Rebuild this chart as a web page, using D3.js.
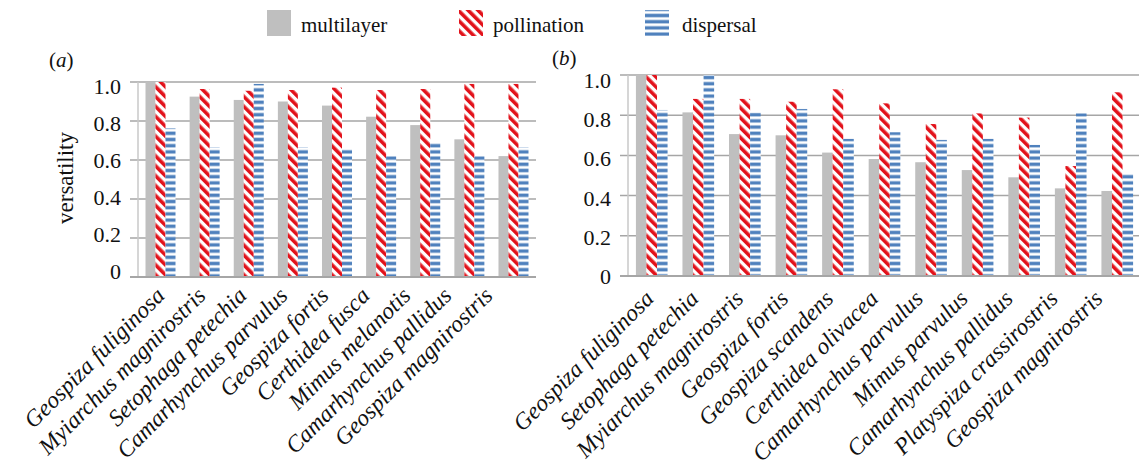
<!DOCTYPE html>
<html>
<head>
<meta charset="utf-8">
<script src="https://cdn.jsdelivr.net/npm/d3@7"></script>
<style>
  body { margin: 0; background: #fff; }
</style>
</head>
<body>
<div id="chart"></div>
<script>
// data
var seriesNames = ["multilayer", "pollination", "dispersal"];
var yTicks = [0, 0.2, 0.4, 0.6, 0.8, 1.0];

var speciesA = ["Geospiza fuliginosa", "Myiarchus magnirostris", "Setophaga petechia",
  "Camarhynchus parvulus", "Geospiza fortis", "Certhidea fusca", "Mimus melanotis",
  "Camarhynchus pallidus", "Geospiza magnirostris"];
var multilayerA  = [1.0, 0.925, 0.908, 0.90, 0.879, 0.822, 0.779, 0.706, 0.62];
var pollinationA = [1.0, 0.964, 0.955, 0.959, 0.971, 0.959, 0.964, 0.99, 0.99];
var dispersalA   = [0.763, 0.665, 0.99, 0.665, 0.656, 0.62, 0.689, 0.62, 0.665];

var speciesB = ["Geospiza fuliginosa", "Setophaga petechia", "Myiarchus magnirostris",
  "Geospiza fortis", "Geospiza scandens", "Certhidea olivacea", "Camarhynchus parvulus",
  "Mimus parvulus", "Camarhynchus pallidus", "Platyspiza crassirostris", "Geospiza magnirostris"];
var multilayerB  = [1.0, 0.814, 0.706, 0.70, 0.614, 0.582, 0.566, 0.527, 0.491, 0.436, 0.423];
var pollinationB = [1.0, 0.881, 0.881, 0.867, 0.929, 0.859, 0.756, 0.809, 0.788, 0.547, 0.914];
var dispersalB   = [0.826, 1.0, 0.813, 0.831, 0.682, 0.715, 0.677, 0.682, 0.652, 0.809, 0.511];

var W = 1139, H = 474;
var grey = "#bfbfbf", red = "#e2121b", blue = "#4f81bd", gridCol = "#a6a6a6";
var FONT = "Liberation Serif";

var svg = d3.select("#chart").append("svg")
  .attr("width", W).attr("height", H);

function txt(sel, size) {
  return sel.append("text")
    .attr("font-family", FONT)
    .attr("font-size", size || 22).attr("fill", "#111");
}

// fill patterns
var defs = svg.append("defs");
var pRed = defs.append("pattern")
  .attr("id", "pRed").attr("patternUnits", "userSpaceOnUse")
  .attr("width", 7).attr("height", 7)
  .attr("patternTransform", "rotate(-45)");
pRed.append("rect").attr("width", 7).attr("height", 7).attr("fill", "#fff");
pRed.append("rect").attr("width", 3.6).attr("height", 7).attr("fill", red);

var pBlue = defs.append("pattern")
  .attr("id", "pBlue").attr("patternUnits", "userSpaceOnUse")
  .attr("width", 6).attr("height", 6.2);
pBlue.append("rect").attr("width", 6).attr("height", 6.2).attr("fill", "#fff");
pBlue.append("rect").attr("y", 1.4).attr("width", 6).attr("height", 3.4).attr("fill", blue);

var fills = {multilayer: grey, pollination: "url(#pRed)", dispersal: "url(#pBlue)"};

// legend
var legendItems = [
  {name: "multilayer", x: 267, tx: 301},
  {name: "pollination", x: 459, tx: 493},
  {name: "dispersal", x: 645, tx: 682}
];
var lg = svg.append("g");
legendItems.forEach(function(d) {
  lg.append("rect").attr("x", d.x).attr("y", 10).attr("width", 24).attr("height", 26)
    .attr("fill", fills[d.name]);
  txt(lg, 21).attr("x", d.tx).attr("y", 32).text(d.name);
});

function panel(opts) {
  var cats = opts.cats;
  var rows = cats.map(function(c, i) {
    return {cat: c, multilayer: opts.m[i], pollination: opts.p[i], dispersal: opts.d[i]};
  });

  var x = d3.scaleBand().domain(cats).range([opts.x0, opts.x1])
    .paddingInner(0.32).paddingOuter(0.17);
  var xs = d3.scaleBand().domain(seriesNames).range([0, x.bandwidth()]);
  var y = d3.scaleLinear().domain([0, 1]).range([opts.yb, opts.yt]);
  // the text in the figure sits on its own, slightly tighter grid
  var yLab = d3.scaleLinear().domain([0, 1]).range(opts.labY);
  var xLab = d3.scalePoint().domain(cats).range(opts.labX);

  var g = svg.append("g");

  // gridlines + outward ticks
  g.selectAll(".grid").data(yTicks.filter(function(t) { return t > 0; }))
    .enter().append("line")
    .attr("x1", opts.x0 - 8).attr("x2", opts.x1)
    .attr("y1", function(t) { return y(t); }).attr("y2", function(t) { return y(t); })
    .attr("stroke", gridCol).attr("stroke-width", 1.5);

  // y axis line
  g.append("line").attr("x1", opts.x0).attr("x2", opts.x0)
    .attr("y1", y(1)).attr("y2", y(0))
    .attr("stroke", "#c8c8c8").attr("stroke-width", 1.5);

  // tick labels
  yTicks.forEach(function(t) {
    txt(g).attr("x", opts.x0 - 17).attr("y", yLab(t))
      .attr("dy", "0.35em").attr("text-anchor", "end")
      .text(t === 0 ? "0" : d3.format(".1f")(t));
  });

  // bars
  var grp = g.selectAll(".grp").data(rows).enter().append("g")
    .attr("transform", function(d) { return "translate(" + x(d.cat) + ",0)"; });
  grp.selectAll("rect").data(function(d) {
      return seriesNames.map(function(s) { return {s: s, v: d[s]}; });
    })
    .enter().append("rect")
    .attr("x", function(d) { return xs(d.s); })
    .attr("width", xs.bandwidth())
    .attr("y", function(d) { return y(d.v); })
    .attr("height", function(d) { return y(0) - y(d.v); })
    .attr("fill", function(d) { return fills[d.s]; });

  // x axis line
  g.append("line").attr("x1", opts.x0 - 8).attr("x2", opts.x1)
    .attr("y1", y(0)).attr("y2", y(0))
    .attr("stroke", gridCol).attr("stroke-width", 2);

  // category labels
  cats.forEach(function(c) {
    txt(g, 23.5).attr("transform", "translate(" + xLab(c) + "," + (y(0) + opts.labDy) + ") rotate(-45)")
      .attr("text-anchor", "end")
      .attr("font-style", "italic")
      .text(c);
  });

  // panel letter
  var lt = txt(g, 21).attr("x", opts.lx).attr("y", opts.ly);
  lt.append("tspan").text("(");
  lt.append("tspan").attr("font-style", "italic").text(opts.letter);
  lt.append("tspan").text(")");

  return g;
}

panel({cats: speciesA, m: multilayerA, p: pollinationA, d: dispersalA,
  x0: 138, x1: 536, yt: 82, yb: 277, labY: [271.5, 86], labX: [166, 494], labDy: 20,
  letter: "a", lx: 49, ly: 67});

// y axis title for panel a
txt(svg, 23)
  .attr("transform", "translate(73,178) rotate(-90)")
  .attr("text-anchor", "middle")
  .text("versatility");

panel({cats: speciesB, m: multilayerB, p: pollinationB, d: dispersalB,
  x0: 628, x1: 1141, yt: 75, yb: 276, labY: [276.5, 80], labX: [655, 1104], labDy: 24,
  letter: "b", lx: 552, ly: 65});
</script>
</body>
</html>
